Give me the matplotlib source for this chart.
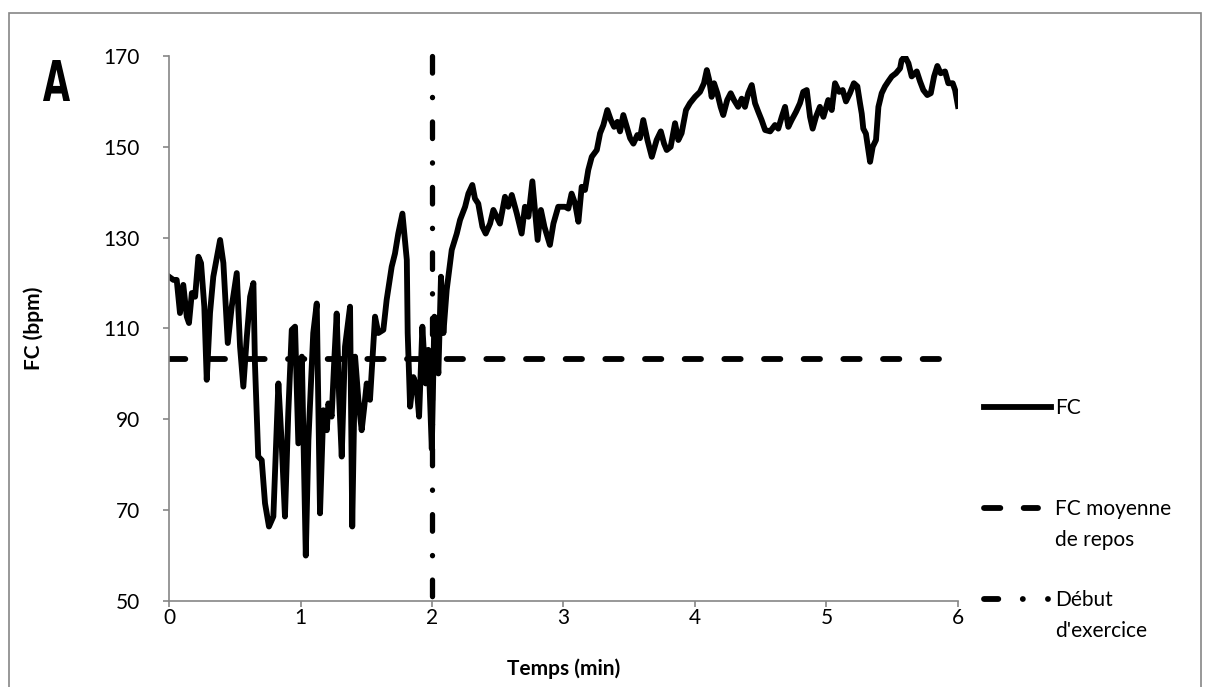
#!/usr/bin/env python3
"""
FC pendant repos puis exercice (panneau A)
"""
import numpy as np
import matplotlib
matplotlib.use("Agg")
import matplotlib.pyplot as plt
from matplotlib.lines import Line2D
from matplotlib.patches import Rectangle, PathPatch
from matplotlib.textpath import TextPath
from matplotlib.font_manager import FontProperties
from matplotlib.transforms import Affine2D

plt.rcParams["font.family"] = ["Lato", "DejaVu Sans"]

# ===== données =====
temps_s = [
    0, 2, 3.5, 5, 6.5, 8.1, 9.1, 10.4, 11.9, 13.4,
    14.6, 16.1, 17.2, 18.7, 20.2, 23.3, 24.8, 26.8, 28.6, 30.9,
    32.4, 33.9, 35.5, 37.0, 38.5, 39.2, 40.7, 42.3, 43.8, 45.6,
    47.6, 49.9, 51.4, 52.9, 54.4, 56.0,
    57.5, 59.0, 60.6, 62.4, 63.6, 65.8, 67.4, 68.9, 70.4, 72.0,
    72.7, 74.2, 75.4, 76.5, 77.6, 78.8, 80.3, 82.6, 83.6, 84.9,
    86.4, 87.9, 89.1, 90.2, 91.7, 92.8, 94.0, 95.5, 97.8, 99.3,
    101.6, 103.1, 104.6, 106.5, 108.5, 108.9, 110.0, 111.5, 113.0, 114.1,
    115.6, 117.1, 118.3,
    119.9, 121.1, 122.9, 124.1, 125.2, 126.7, 129.0, 131.3, 132.8, 135.1,
    136.6, 138.4, 139.6, 141.1, 143.0, 144.5, 146.5, 148.0, 149.5, 151.0,
    153.3, 154.8, 156.4, 158.7, 160.9, 162.4, 164.0, 165.8, 168.2, 169.7,
    171.3, 173.8, 175.4, 177.6,
    180.7, 182.2, 183.7, 185.3, 186.8, 188.3, 189.8, 191.3, 192.9, 195.2,
    196.7, 198.2, 200.0, 201.6, 203.1, 204.6, 205.8, 207.3, 208.9, 210.4,
    211.9, 213.7, 214.9, 216.4, 218.3, 220.3, 222.5, 224.4, 225.9, 227.1,
    228.9, 230.9, 232.4, 233.9, 235.9, 237.7, 240.0,
    242.3, 244.1, 245.4, 246.5, 247.6, 248.7, 250.2, 251.7, 252.9, 254.7,
    256.3, 257.8, 259.7, 261.3, 262.8, 264.3, 265.9, 267.4, 268.9, 270.4,
    272.0, 274.3, 276.5, 278.0, 279.6, 281.1, 282.6, 284.1, 286.1, 287.9,
    289.4, 291.0, 292.5, 293.7, 295.2,
    297.0, 298.6, 300.8, 302.4, 303.9, 305.8, 307.4, 308.9, 310.7, 312.5,
    314.1, 315.3, 316.1, 316.8, 318.0, 319.1, 319.9, 321.1, 322.6, 323.7,
    325.2, 326.7, 328.2, 329.8, 331.7, 333.6, 334.3, 335.8, 337.4, 338.9,
    341.2, 342.7, 344.2, 346.0, 347.6, 349.1, 350.6, 352.1, 354.1, 355.6,
    357.6, 358.7, 360,
]
fc = [
    121.4, 120.7, 120.7, 113.4, 119.6, 112.6, 111.2, 117.8, 117, 125.8,
    124.4, 114.8, 98.7, 113.4, 121.4, 129.5, 124.4, 106.8, 114.8, 122.2,
    106, 97.2, 108.2, 117, 120, 102.3, 81.8, 81, 71.5, 66.4,
    68.6, 97.9, 84.7, 68.6, 91.3, 109.7,
    110.4, 84.7, 103.8, 60, 85.4, 109, 115.5, 69.3, 92, 87.6,
    93.5, 90.6, 103, 113.3, 95, 81.8, 106, 114.8, 66.4, 103.8,
    94.3, 87.6, 92.8, 97.9, 94.3, 103, 112.6, 109, 109.7, 116.3,
    123.6, 126.5, 130.9, 135.3, 125.1, 109, 92.8, 99.3, 97.2, 90.6,
    110.4, 97.9, 105.3,
    83.5, 112.6, 100.1, 121.4, 109, 118.5, 127.3, 130.9, 133.9, 136.8,
    139.7, 141.6, 138.6, 137.5, 132.4, 130.9, 133.1, 136.1, 134.6, 133.1,
    139, 136.8, 139.4, 135.3, 130.9, 136.8, 134.6, 142.4, 129.5, 136.1,
    132.4, 128.4, 133.1, 136.8,
    136.8, 136.4, 139.7, 137.5, 133.5, 141.2, 140.5, 144.9, 147.8, 149.3,
    153, 154.8, 158.1, 155.9, 154.4, 155.5, 153.4, 157, 154.4, 151.9,
    150.7, 152.6, 151.9, 155.9, 151.5, 147.8, 151.5, 153.4, 150.7, 149.3,
    150, 155.2, 151.5, 153, 158.1, 159.6, 161,
    162.1, 164, 166.9, 164.7, 161, 164, 161.8, 158.8, 157, 160.3,
    161.8, 160.3, 158.8, 160.6, 158.8, 161.8, 163.6, 159.6, 157.7, 155.9,
    153.7, 153.4, 154.8, 154, 156.6, 158.8, 154.4, 155.9, 157.7, 159.6,
    162.1, 162.5, 156.6, 154, 156.6,
    158.8, 156.6, 160.3, 158.1, 164, 162.1, 162.5, 160, 161.8, 164,
    163.3, 159.6, 157.3, 154, 152.9, 149.3, 146.7, 150, 151.5, 158.8,
    161.8, 163.3, 164.4, 165.5, 166.2, 167.3, 169.1, 169.9, 168.4, 165.5,
    166.6, 164.4, 162.5, 161.4, 161.8, 165.5, 167.8, 166.2, 166.6, 164,
    164, 162.5, 159,
]
fc_repos = 103.2       # FC moyenne de repos
debut_exercice = 2.0   # min
x_ticks = [0, 1, 2, 3, 4, 5, 6]
y_ticks = [50, 70, 90, 110, 130, 150, 170]

GRIS = "#868686"
FS = 15
LW = 4.2
DASH = (2.8, 4.0)
DASHDOT = (3.15, 4.6, 0.05, 4.6)
DASHDOT_LEG = (2.45, 4.2, 0.01, 4.3, 0.01, 10)


def main():
    t_min = np.array(temps_s) / 60.0

    fig = plt.figure(figsize=(12.1, 6.87), dpi=100)
    W, H = 1210.0, 687.0
    ax = fig.add_axes([0.1397, 0.1252, 0.6520, 0.7933])

    ax.plot(t_min, fc, color="black", linewidth=LW, solid_joinstyle="round")
    ax.plot([0, 6], [fc_repos, fc_repos], color="black", linewidth=LW,
            dashes=DASH, dash_capstyle="round")
    # du haut vers le bas pour commencer par un tiret en haut
    ax.plot([debut_exercice, debut_exercice], [170, 50], color="black", linewidth=3.8,
            dashes=DASHDOT, dash_capstyle="round", clip_on=False)

    ax.set_xlim(0, 6)
    ax.set_ylim(50, 170)
    ax.set_xticks(x_ticks)
    ax.set_yticks(y_ticks)
    ax.tick_params(axis="both", direction="out", length=4, width=1.2, color=GRIS,
                   labelsize=FS, labelcolor="black")
    ax.tick_params(axis="y", pad=17)
    ax.tick_params(axis="x", pad=1)
    for s in ("top", "right"):
        ax.spines[s].set_visible(False)
    for s in ("left", "bottom"):
        ax.spines[s].set_color(GRIS)
        ax.spines[s].set_linewidth(1.2)

    ax.set_xlabel("Temps (min)", fontsize=FS, fontweight="bold")
    ax.set_ylabel("FC (bpm)", fontsize=FS, fontweight="bold")
    ax.xaxis.set_label_coords(0.5, -0.105)
    ax.yaxis.set_label_coords(-0.158, 0.5)

    # légende façon Excel, texte aligné sur la première ligne
    entries = [
        ("FC", {}, 407, 1051),
        ("FC moyenne\nde repos", {"dashes": DASH, "dash_capstyle": "round"}, 508, 1038),
        ("Début\nd'exercice", {"dashes": DASHDOT_LEG, "dash_capstyle": "round"}, 599, 1051),
    ]
    for label, style, ypx, x_end in entries:
        yf = 1 - ypx / H
        fig.add_artist(Line2D([984 / W, x_end / W], [yf, yf], color="black",
                              linewidth=LW, transform=fig.transFigure, **style))
        fig.text(1055 / W, yf + 9 / H, label, fontsize=FS, va="top", ha="left",
                 linespacing=1.7, transform=fig.transFigure)

    # lettre du panneau, police étroite simulée
    tp = TextPath((0, 0), "A", size=1, prop=FontProperties(family="DejaVu Sans", weight="bold"))
    ext = tp.get_extents()
    tr = (Affine2D().translate(-ext.x0, -ext.y0)
          .scale(27 / ext.width, 41 / ext.height)
          .translate(43, H - 101))
    fig.add_artist(PathPatch(tr.transform_path(tp), facecolor="black", edgecolor="none",
                             transform=None))

    fig.patches.append(Rectangle((9 / W, -0.02), 1192 / W, 1 - 13 / H + 0.02,
                                 transform=fig.transFigure, fill=False,
                                 edgecolor=GRIS, linewidth=1.2))

    fig.savefig("out.png", dpi=100)
    plt.close(fig)


if __name__ == "__main__":
    main()
